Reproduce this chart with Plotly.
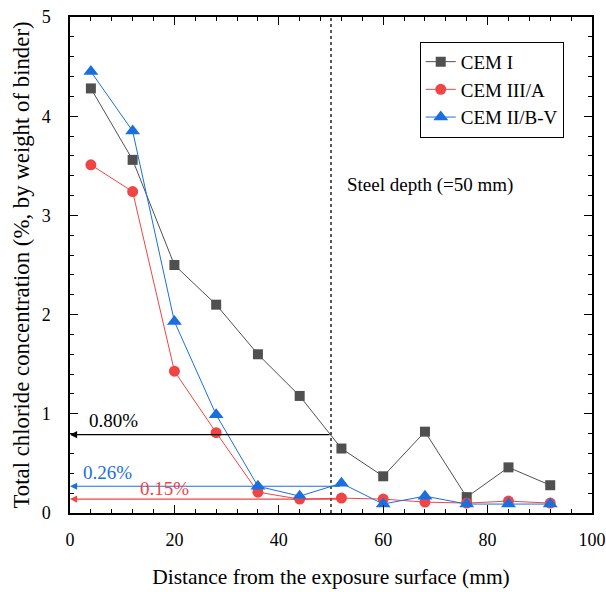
import plotly.graph_objects as go

depth = [4, 12, 20, 28, 36, 44, 52, 60, 68, 76, 84, 92]
cem_i = [4.28, 3.56, 2.50, 2.10, 1.60, 1.18, 0.65, 0.37, 0.82, 0.16, 0.46, 0.28]
cem_iiia = [3.51, 3.24, 1.43, 0.81, 0.21, 0.14, 0.15, 0.14, 0.11, 0.10, 0.12, 0.10]
cem_iibv = [4.45, 3.85, 1.93, 0.99, 0.27, 0.17, 0.30, 0.09, 0.17, 0.09, 0.09, 0.09]

steel_depth = 50
thr_i, thr_iiia, thr_iibv = 0.79, 0.14, 0.27

GRAY = "#505050"
RED = "#f04545"
BLUE = "#1a6fe0"
FONT = "Liberation Serif"

fig = go.Figure()
fig.add_trace(go.Scatter(x=depth, y=cem_i, name="CEM I", mode="lines+markers",
                         line=dict(color=GRAY, width=1),
                         marker=dict(symbol="square", size=10, color=GRAY)))
fig.add_trace(go.Scatter(x=depth, y=cem_iiia, name="CEM III/A", mode="lines+markers",
                         line=dict(color=RED, width=1),
                         marker=dict(symbol="circle", size=11, color=RED)))
fig.add_trace(go.Scatter(x=depth, y=cem_iibv, name="CEM II/B-V", mode="lines+markers",
                         line=dict(color=BLUE, width=1),
                         marker=dict(symbol="triangle-up", size=13, color=BLUE)))

# steel depth dotted line
fig.add_shape(type="line", x0=steel_depth, x1=steel_depth, y0=0, y1=5,
              xref="x", yref="y", line=dict(color="black", width=1.3, dash="dot"))

# arrows to axis
for yv, x0, col in [(thr_i, steel_depth, "black"), (thr_iibv, 52, BLUE), (thr_iiia, 52, RED)]:
    fig.add_annotation(x=0, y=yv, ax=x0, ay=yv, xref="x", yref="y", axref="x", ayref="y",
                       showarrow=True, arrowhead=2, arrowsize=1.3, arrowwidth=1.1,
                       arrowcolor=col, text="")

fig.add_annotation(x=3.2, y=0.93, text="0.80%", showarrow=False, xanchor="left",
                   font=dict(family=FONT, size=19, color="black"))
fig.add_annotation(x=2.2, y=0.41, text="0.26%", showarrow=False, xanchor="left",
                   font=dict(family=FONT, size=19, color=BLUE))
fig.add_annotation(x=13.1, y=0.25, text="0.15%", showarrow=False, xanchor="left",
                   font=dict(family=FONT, size=19, color=RED))
fig.add_annotation(x=52.7, y=3.31, text="Steel depth (=50 mm)", showarrow=False, xanchor="left",
                   font=dict(family=FONT, size=19, color="black"))

axis_common = dict(showgrid=False, zeroline=False, showline=True, linecolor="black",
                   linewidth=1.5, mirror="ticks", ticks="inside", ticklen=8, tickwidth=1.3,
                   tickcolor="black", tickfont=dict(family=FONT, size=18, color="black"),
                   automargin=False)

fig.update_xaxes(range=[0, 100], dtick=20, tick0=0, ticklabelstandoff=10,
                 minor=dict(dtick=4, ticklen=4, ticks="inside", tickcolor="black", tickwidth=1.2),
                 title=dict(text="Distance from the exposure surface (mm)",
                            font=dict(family=FONT, size=21.5, color="black"), standoff=20),
                 **axis_common)
fig.update_yaxes(range=[0, 5], dtick=1, tick0=0, ticklabelstandoff=14,
                 minor=dict(dtick=0.2, ticklen=4, ticks="inside", tickcolor="black", tickwidth=1.2),
                 title=dict(text="Total chloride concentration (%, by weight of binder)",
                            font=dict(family=FONT, size=22.8, color="black"), standoff=6),
                 **axis_common)

fig.update_layout(
    width=606, height=592,
    margin=dict(l=70, r=14, t=17, b=79),
    plot_bgcolor="white", paper_bgcolor="white",
    font=dict(family=FONT, size=19, color="black"),
    legend=dict(x=0.67, y=0.95, xanchor="left", yanchor="top",
                bordercolor="black", borderwidth=1, bgcolor="white",
                font=dict(family=FONT, size=19), itemwidth=30,
                tracegroupgap=0),
    showlegend=True,
)

fig.write_html("out.html")
